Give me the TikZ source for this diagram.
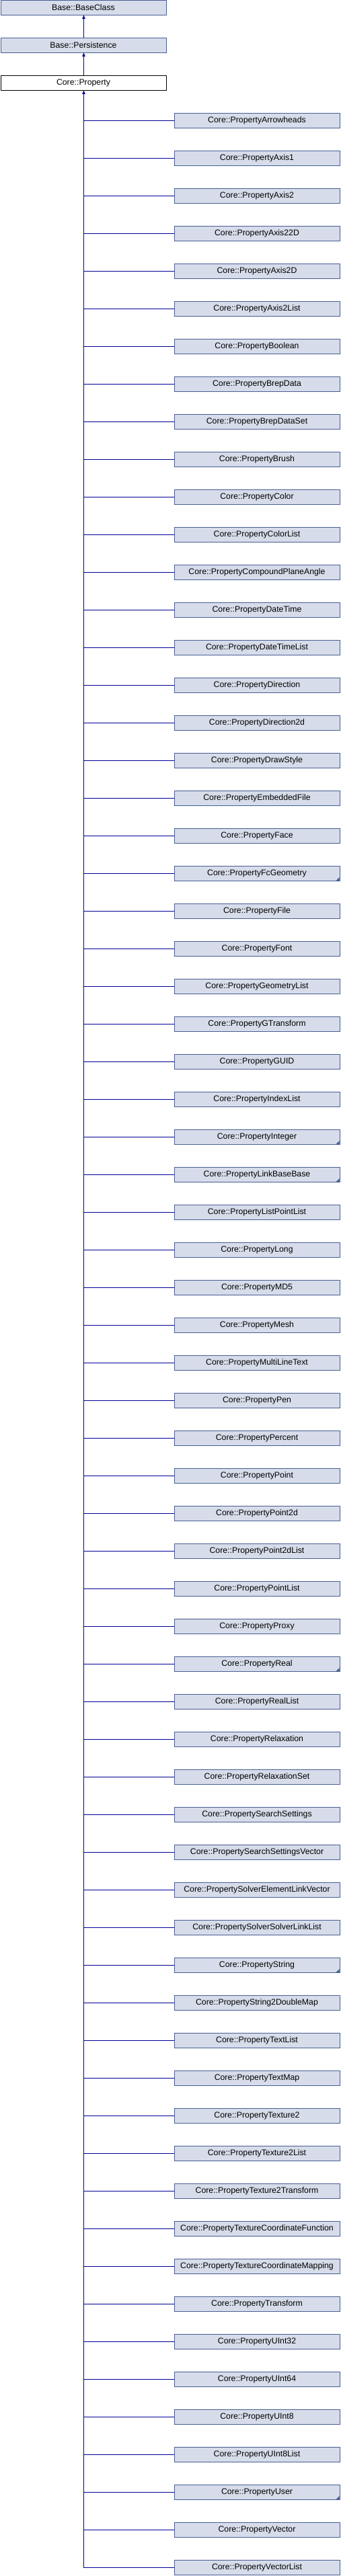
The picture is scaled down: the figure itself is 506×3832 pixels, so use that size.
\documentclass[tikz,border=0pt]{standalone}
\usepackage{fontspec}
\setmainfont{Liberation Sans}
\usetikzlibrary{arrows.meta}
\definecolor{boxfill}{RGB}{214,220,233}
\definecolor{boxline}{RGB}{72,94,148}
\definecolor{edgecol}{RGB}{0,0,150}
\begin{document}
\begin{tikzpicture}[x=1pt,y=-1pt,
  cls/.style={draw=boxline,fill=boxfill,line width=1pt,minimum width=246pt,minimum height=22pt,inner sep=0pt,outer sep=0pt,font=\fontsize{12.3}{14}\selectfont,text=black},
  cur/.style={cls,draw=black,fill=white},
  edge/.style={draw=edgecol,line width=1pt},
  inh/.style={edge,-{Triangle[length=5.5pt,width=4.5pt]}},
  more/.style={path picture={\fill[boxline] ([xshift=-0.5pt,yshift=0.5pt]path picture bounding box.south east) -- ++(-5pt,0) -- ++(5pt,5pt) -- cycle;}}
]
\useasboundingbox (0,0) rectangle (506,3832);
\node[cls] (base) at (124,11.5) {Base::BaseClass};
\node[cls] (pers) at (124,67.5) {Base::Persistence};
\node[cur] (prop) at (124,123.5) {Core::Property};
\draw[inh] (pers.north -| 124.5,0) -- (base.south -| 124.5,0);
\draw[inh] (prop.north -| 124.5,0) -- (pers.south -| 124.5,0);
\foreach [count=\i from 0] \n/\m in {
PropertyArrowheads/,PropertyAxis1/,PropertyAxis2/,PropertyAxis22D/,PropertyAxis2D/,PropertyAxis2List/,PropertyBoolean/,PropertyBrepData/,PropertyBrepDataSet/,PropertyBrush/,PropertyColor/,PropertyColorList/,PropertyCompoundPlaneAngle/,PropertyDateTime/,PropertyDateTimeList/,PropertyDirection/,PropertyDirection2d/,PropertyDrawStyle/,PropertyEmbeddedFile/,PropertyFace/,PropertyFcGeometry/more,PropertyFile/,PropertyFont/,PropertyGeometryList/,PropertyGTransform/,PropertyGUID/,PropertyIndexList/,PropertyInteger/more,PropertyLinkBaseBase/more,PropertyListPointList/,PropertyLong/,PropertyMD5/,PropertyMesh/,PropertyMultiLineText/,PropertyPen/,PropertyPercent/,PropertyPoint/,PropertyPoint2d/,PropertyPoint2dList/,PropertyPointList/,PropertyProxy/,PropertyReal/more,PropertyRealList/,PropertyRelaxation/,PropertyRelaxationSet/,PropertySearchSettings/,PropertySearchSettingsVector/,PropertySolverElementLinkVector/,PropertySolverSolverLinkList/,PropertyString/more,PropertyString2DoubleMap/,PropertyTextList/,PropertyTextMap/,PropertyTexture2/,PropertyTexture2List/,PropertyTexture2Transform/,PropertyTextureCoordinateFunction/,PropertyTextureCoordinateMapping/,PropertyTransform/,PropertyUInt32/,PropertyUInt64/,PropertyUInt8/,PropertyUInt8List/,PropertyUser/more,PropertyVector/,PropertyVectorList/} {
  \node[cls,\m] (c\i) at (382,179.5+56*\i) {Core::\n};
  \draw[edge] (c\i.west) -- (c\i.west -| 124.5,0);
}
\draw[inh] (c65.west -| 124.5,0) -- (prop.south -| 124.5,0);
\end{tikzpicture}
\end{document}
